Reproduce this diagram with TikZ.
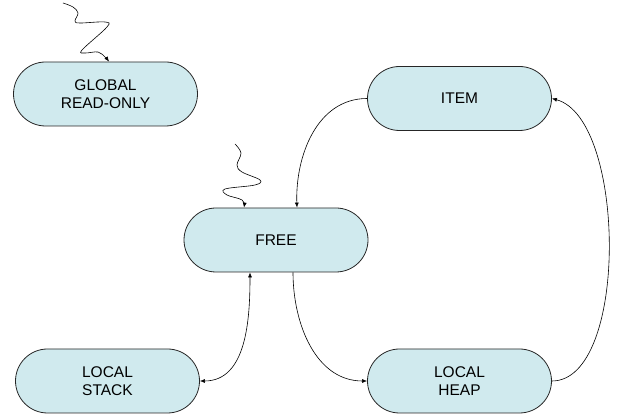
\documentclass[tikz,border=0pt]{standalone}
\usepackage{fontspec}
\setmainfont{Liberation Sans}
\usetikzlibrary{shapes.misc,arrows.meta}
\definecolor{statefill}{RGB}{208,234,238}

\tikzset{
  state/.style={rounded rectangle, draw=black!85, fill=statefill, line width=0.8pt,
    minimum width=184pt, minimum height=64pt, inner sep=0pt, align=center,
    font=\fontsize{15.5}{18}\selectfont},
  flow/.style={-{Latex[length=5pt,width=4pt]}, line width=0.6pt}
}

\begin{document}
\begin{tikzpicture}[x=1pt,y=-1pt]
  \useasboundingbox (0,0) rectangle (625,419);

  \node[state] (glob) at (105.5,94) {GLOBAL\\READ-ONLY};
  \node[state] (item) at (459.5,98.5) {ITEM};
  \node[state] (free) at (276,240) {FREE};
  \node[state] (lstack) at (107.5,381) {LOCAL\\STACK};
  \node[state] (lheap) at (459.5,381) {LOCAL\\HEAP};

  % squiggles for incoming allocations
  \draw[flow] plot[smooth, tension=0.6] coordinates {(63,3) (73,7) (78,13) (75,21) (80,23)
    (105,22) (107,27) (82,50) (85,53) (98,52) (105,57) (glob.north -| 109,0)};
  \draw[flow] plot[smooth, tension=0.6] coordinates {(235,144) (241,153) (237,165) (242,172)
    (260,180) (255,185) (225,189) (227,195) (242,200) (free.north -| 244,0)};

  \draw[flow] (item.west) to[out=180, in=92] ([xshift=21pt]free.north);
  \draw[{Latex[length=5pt,width=4pt]}-{Latex[length=5pt,width=4pt]}, line width=0.6pt]
    ([xshift=-26pt]free.south) to[out=-90, in=0] (lstack.east);
  \draw[flow] ([xshift=17pt]free.south) to[out=-90, in=180] (lheap.west);
  \draw[flow] (lheap.east) to[out=0, in=-15, looseness=0.7] (item.east);
\end{tikzpicture}
\end{document}
